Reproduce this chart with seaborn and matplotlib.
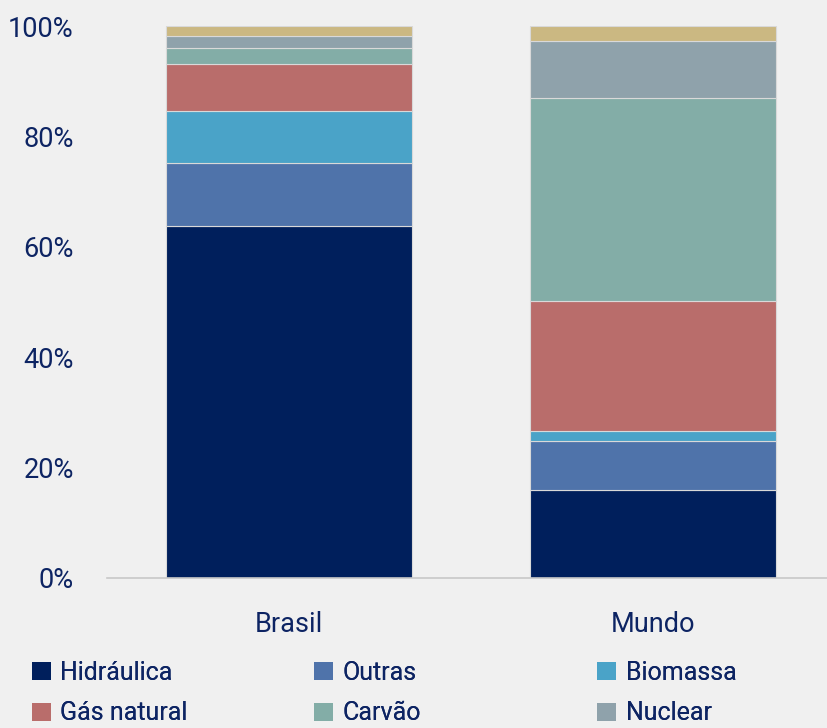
import matplotlib
matplotlib.use("Agg")
import matplotlib.pyplot as plt
import pandas as pd
import seaborn as sns
from matplotlib.patches import Patch

# Dados (% da geração elétrica)
regioes = ["Brasil", "Mundo"]
fontes = ["Hidráulica", "Outras", "Biomassa", "Gás natural", "Carvão", "Nuclear", "Petróleo"]
hidraulica = [63.8, 15.9]
outras = [11.4, 8.9]
biomassa = [9.4, 1.9]
gas_natural = [8.6, 23.5]
carvao = [2.8, 36.8]
nuclear = [2.2, 10.2]
petroleo = [1.8, 2.8]

cores = ["#001f5c", "#4f73aa", "#4aa3c8", "#b96d6b", "#83ada7", "#8fa2ab", "#cbb882"]
texto = "#0d2463"
fundo = "#f0f0f0"

sns.set_theme(style="white")
plt.rcParams["font.family"] = ["Roboto", "DejaVu Sans"]

valores = [hidraulica, outras, biomassa, gas_natural, carvao, nuclear, petroleo]
df = pd.DataFrame({f: v for f, v in zip(fontes, valores)}, index=regioes)

fig = plt.figure(figsize=(8.27, 7.28), dpi=100, facecolor=fundo)
ax = fig.add_axes([107 / 827, 150 / 728, 1 - 107 / 827, 552 / 728])
ax.set_facecolor(fundo)

base = [0.0] * len(regioes)
for fonte, cor in zip(fontes, cores):
    sns.barplot(x=regioes, y=df[fonte].values, color=cor, width=0.676,
                bottom=base, ax=ax, edgecolor="#d9d9d9", linewidth=0.8,
                saturation=1)
    base = [b + v for b, v in zip(base, df[fonte].values)]

ax.set_ylim(0, 100)
ax.set_xlim(-0.5, 1.478)
ax.set_yticks(range(0, 101, 20))
ax.set_yticklabels([f"{t}%" for t in range(0, 101, 20)])
ax.tick_params(axis="y", length=0, pad=24, labelsize=19.5, labelcolor=texto)
ax.tick_params(axis="x", length=0, pad=24, labelsize=19.5, labelcolor=texto)
ax.set_xlabel("")
ax.set_ylabel("")
for lado in ["left", "right", "top"]:
    ax.spines[lado].set_visible(False)
ax.spines["bottom"].set_color("#c8c8c8")
ax.spines["bottom"].set_linewidth(1.2)

# legenda em três colunas, lida por linhas (Petróleo fica fora, cortado no original)
colunas_x = [32, 314, 597]
for i, x in enumerate(colunas_x):
    idx = [i, i + 3]
    handles = [Patch(facecolor=cores[j], edgecolor="none") for j in idx]
    leg = fig.legend(handles, [fontes[j] for j in idx], loc="upper left",
                     bbox_to_anchor=(x / 827, (728 - 661) / 728), frameon=False,
                     fontsize=18, labelcolor=texto, handlelength=0.74,
                     handleheight=0.74, handletextpad=0.4, labelspacing=0.66,
                     borderaxespad=0, borderpad=0)
    fig.add_artist(leg)

fig.savefig("out.png", dpi=100, facecolor=fundo)
